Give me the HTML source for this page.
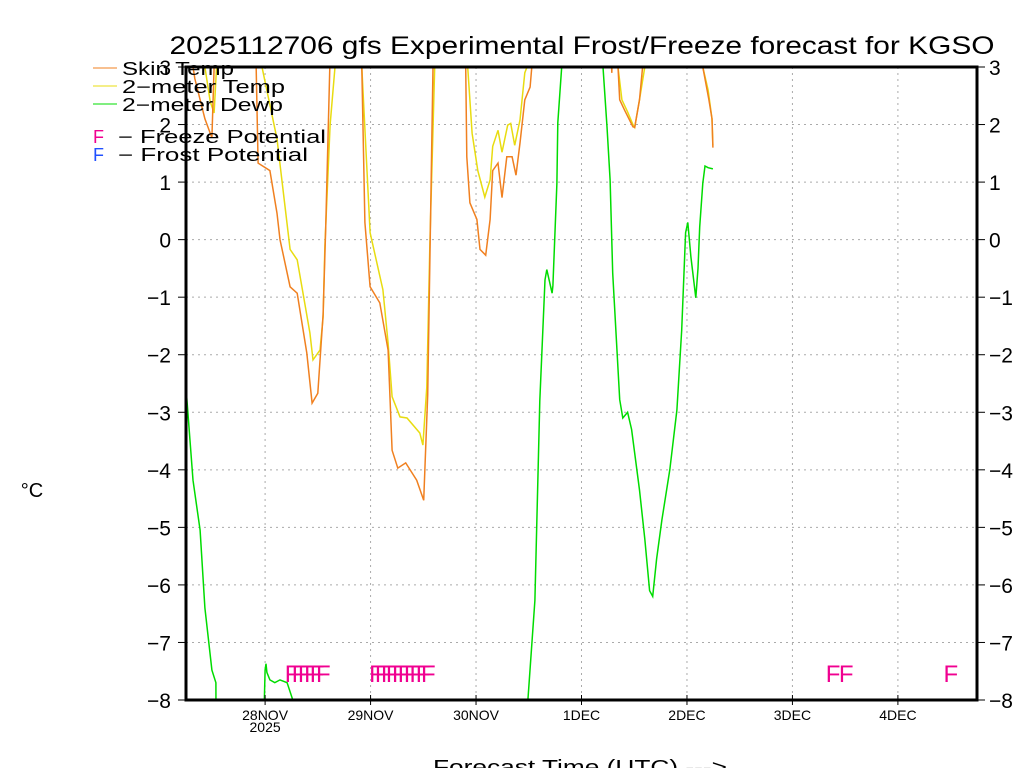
<!DOCTYPE html>
<html><head><meta charset="utf-8"><style>
html,body{margin:0;padding:0;background:#fff;}
svg{display:block;font-family:"Liberation Sans",sans-serif;}
</style></head><body>
<svg id="chart" width="1024" height="768" viewBox="0 0 1024 768">
<defs><clipPath id="pc"><rect x="186" y="67" width="791" height="633"/></clipPath></defs>
<text x="582" y="54" text-anchor="middle" font-size="25" textLength="825" lengthAdjust="spacingAndGlyphs">2025112706 gfs Experimental Frost/Freeze forecast for KGSO</text>
<g id="grid"></g>
<g id="series" clip-path="url(#pc)"></g>
<g id="marks"></g>
<g id="axes"></g>
<g font-size="18">
<line x1="93" y1="68" x2="117" y2="68" stroke="#f08020"/>
<text x="122" y="75" textLength="112" lengthAdjust="spacingAndGlyphs">Skin Temp</text>
<line x1="93" y1="86" x2="117" y2="86" stroke="#e8dc10"/>
<text x="122" y="93" textLength="163" lengthAdjust="spacingAndGlyphs">2−meter Temp</text>
<line x1="93" y1="104" x2="117" y2="104" stroke="#00dc00"/>
<text x="122" y="111" textLength="161" lengthAdjust="spacingAndGlyphs">2−meter Dewp</text>
<text x="93" y="143" fill="#f00090">F</text>
<text x="118" y="143" textLength="208" lengthAdjust="spacingAndGlyphs">−  Freeze Potential</text>
<text x="93" y="161" fill="#2050ff">F</text>
<text x="118" y="161" textLength="190" lengthAdjust="spacingAndGlyphs">−  Frost Potential</text>
</g>
<text x="32" y="497" text-anchor="middle" font-size="20">°C</text>
<text x="580" y="774" text-anchor="middle" font-size="20" textLength="294" lengthAdjust="spacingAndGlyphs">Forecast Time (UTC) ---&gt;</text>
</svg>
<script>
const yTicks = [3,2,1,0,-1,-2,-3,-4,-5,-6,-7,-8];
const dayLabels = ["28NOV","29NOV","30NOV","1DEC","2DEC","3DEC","4DEC"];
const dayHours = [18,42,66,90,114,138,162];
const skinHours = [0,2,4.3,5.9,6.6,15.7,16.4,19.1,20.7,21.4,23.7,25.3,27.5,28.7,30.0,31.2,31.8,32.8,33.5,39.5,40.0,40.7,41.9,44.1,46.0,46.9,48.2,50.0,52.5,54.1,55.0,56.2,56.6,63.5,63.9,64.6,66.2,66.9,68.2,69.2,69.8,71.0,71.9,73.0,74.2,75.1,76.0,77.1,78.3,78.7,79,96.5,96.9,97.2,98.0,98.3,98.7,99.8,101.7,102.1,103.2,103.9,104.2,117.3,117.6,119.0,119.7,119.9];
const skinVals = [3.8,2.8,2.1,1.77,3.5,4,1.33,1.2,0.46,0,-0.82,-0.93,-1.97,-2.84,-2.67,-1.3,0.2,3.2,4,4,3,0.3,-0.82,-1.1,-1.92,-3.66,-3.97,-3.88,-4.18,-4.53,-2.7,3,4,4,1.44,0.64,0.35,-0.17,-0.27,0.35,1.2,1.33,0.73,1.44,1.44,1.12,1.68,2.43,2.65,3,4,4,2.9,4,4,3,2.43,2.25,1.96,1.95,2.43,3,4,4,3,2.43,2.1,1.6];
const t2Hours = [0,4.3,5.5,6.4,7.3,16.8,17.3,20.7,23.7,25.3,28.2,28.9,30.5,31.2,31.6,32.8,33.9,34.2,39.5,40.0,41.9,44.8,46.0,46.9,48.7,50.3,53.2,53.9,54.8,55.5,56.6,57,63.7,64.1,65.1,66.4,68.0,69.2,69.8,71.0,71.9,73.2,73.9,74.8,76.0,77.1,77.6,78,98.0,98.3,99.2,100.5,101.7,102.1,103.2,104.4,104.7,117.3,117.6,118.8,119.7,119.9];
const t2Vals = [3.8,3,2.4,2.2,3.5,4,3,1.75,-0.17,-0.35,-1.62,-2.09,-1.92,-1.35,-0.1,1.99,3,4,4,3,0.12,-0.87,-1.8,-2.73,-3.08,-3.1,-3.36,-3.57,-2.56,-0.05,3,4,4,3,1.85,1.2,0.74,1.04,1.62,1.9,1.52,1.99,2.02,1.64,2.08,2.9,3,4,4,3,2.43,2.22,2.0,1.95,2.43,3,4,4,3,2.6,2.1,1.64];
const dewHours = [0,1.6,3.2,4.3,5.9,6.8,6.85,17.5,18.0,18.2,18.4,19.1,20.2,21.4,23.0,24.3,24.6,77.5,77.8,79.4,80.5,81.7,82.1,83.3,83.5,84.4,84.6,85.5,86,94.5,94.9,95.8,96.5,97.1,98.7,99.4,100.5,101.4,103.2,104.4,105.5,106.2,107.1,108.3,110.1,111.7,112.8,113.7,114.2,114.9,116.0,116.5,116.9,117.6,118.1,118.8,119.9];
const dewVals = [-2.57,-4.18,-5.05,-6.4,-7.48,-7.7,-9,-9,-7.48,-7.37,-7.52,-7.65,-7.7,-7.65,-7.7,-8,-9,-9,-8,-6.27,-2.8,-0.7,-0.52,-0.93,-0.8,0.98,2.03,3,4,4,3,1.96,1.04,-0.58,-2.78,-3.1,-3.0,-3.3,-4.35,-5.2,-6.1,-6.2,-5.55,-4.87,-4.0,-2.96,-1.57,0.12,0.3,-0.3,-1.01,-0.5,0.22,0.98,1.28,1.25,1.23];
const freezeHours = [22.7,24.3,25.7,27.1,28.4,29.8,41.9,43.2,44.6,45.7,47.1,48.4,49.8,51.1,52.5,53.7,145.8,148.8,172.6];
const frostHours = [];

const NS="http://www.w3.org/2000/svg";
const X0=186,X1=977,Y0=67,Y1=700,HMAX=180,VMAX=3,VMIN=-8;
function xs(h){return X0+h*(X1-X0)/HMAX;}
function ys(v){return Y0+(VMAX-v)*(Y1-Y0)/(VMAX-VMIN);}
function mk(tag,attrs,parent){const e=document.createElementNS(NS,tag);for(const k in attrs)e.setAttribute(k,attrs[k]);parent.appendChild(e);return e;}
const grid=document.getElementById('grid'),axes=document.getElementById('axes'),series=document.getElementById('series'),marks=document.getElementById('marks');
yTicks.forEach(v=>{
  const y=ys(v);
  if(v!==VMAX&&v!==VMIN){const g=mk('line',{x1:X0,x2:X1,y1:y,y2:y,stroke:'#aaa','stroke-dasharray':'2,4'},grid);
  
  }
  const t1=mk('line',{x1:X0-8,x2:X0,y1:y,y2:y,stroke:'#000'},axes);
  
  
  const t2=mk('line',{x1:X1,x2:X1+8,y1:y,y2:y,stroke:'#000'},axes);
  
  
  const lab=(v<0?'−':'')+Math.abs(v);
  const l=mk('text',{x:171,y:y+8,'text-anchor':'end','font-size':'21'},axes);l.textContent=lab;
  
  
  const r=mk('text',{x:989,y:y+8,'font-size':'21'},axes);r.textContent=lab;
  
  
});
dayHours.forEach((h,i)=>{
  const x=xs(h);
  const g=mk('line',{x1:x,x2:x,y1:Y0,y2:Y1,stroke:'#aaa','stroke-dasharray':'2,4'},grid);
  
  
  const t=mk('line',{x1:x,x2:x,y1:Y1-5,y2:Y1+5,stroke:'#000'},axes);
  
  
  const l=mk('text',{x:x,y:Y1+20,'text-anchor':'middle','font-size':'14'},axes);l.textContent=dayLabels[i];
  
  
});
const yr=mk('text',{x:xs(dayHours[0]),y:Y1+32,'text-anchor':'middle','font-size':'14'},axes);yr.textContent='2025';


const frame=mk('rect',{x:X0,y:Y0,width:X1-X0,height:Y1-Y0,fill:'none',stroke:'#000','stroke-width':'3'},axes);


function drawLine(hs,vs,color,name){
  const d=hs.map((h,i)=>(i?'L':'M')+xs(h).toFixed(1)+','+ys(vs[i]).toFixed(1)).join(' ');
  const p=mk('path',{d:d,fill:'none',stroke:color,'stroke-width':'1.5'},series);
  
  
}
drawLine(dewHours,dewVals,'#00dc00','dewpoint-line');
drawLine(t2Hours,t2Vals,'#e8dc10','2m-temp-line');
drawLine(skinHours,skinVals,'#f08020','skin-temp-line');
freezeHours.forEach(h=>{
  const t=mk('text',{x:xs(h)-1,y:682,'font-size':'24',fill:'#f00090'},marks);t.textContent='F';
  
  
});
frostHours.forEach(h=>{
  const t=mk('text',{x:xs(h)-1,y:682,'font-size':'24',fill:'#2050ff'},marks);t.textContent='F';
  
  
});
</script>
</body></html>
